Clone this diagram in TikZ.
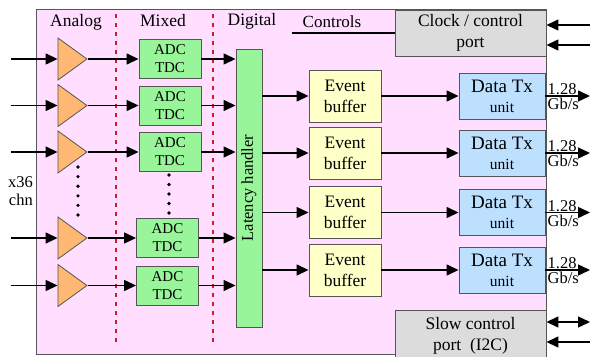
\documentclass[tikz,border=0pt]{standalone}
\usepackage{fontspec}
\setmainfont{Liberation Serif}
\usetikzlibrary{arrows.meta,shapes.geometric}

\definecolor{chippink}{RGB}{255,222,255}
\definecolor{edgegray}{RGB}{85,85,85}
\definecolor{ampor}{RGB}{255,184,115}
\definecolor{adcgreen}{RGB}{153,245,153}
\definecolor{bufyellow}{RGB}{255,255,200}
\definecolor{txblue}{RGB}{189,224,255}
\definecolor{portgray}{RGB}{220,220,220}
\definecolor{sepred}{RGB}{200,30,40}

\begin{document}
\begin{tikzpicture}[x=1pt,y=-1pt,
    >={Triangle[length=12pt,width=11pt]},
    sig/.style={line width=1.4pt,->},
    blk/.style={draw=edgegray,line width=0.9pt,inner sep=0pt,align=center},
    amp/.style={isosceles triangle,isosceles triangle stretches,shape border rotate=0,
        draw=edgegray,fill=ampor,line width=0.8pt,inner sep=0pt,minimum width=42pt,minimum height=29pt},
    adcbox/.style={blk,fill=adcgreen,minimum width=62pt,minimum height=39pt,font=\fontsize{15}{18}\selectfont},
    latbox/.style={blk,fill=adcgreen,minimum width=26pt,minimum height=278pt},
    evbox/.style={blk,fill=bufyellow,minimum width=72pt,minimum height=52pt,font=\fontsize{17.5}{21}\selectfont},
    txbox/.style={blk,fill=txblue,minimum width=86pt,minimum height=46pt,font=\fontsize{19}{20}\selectfont},
    portbox/.style={blk,fill=portgray,minimum width=151pt,font=\fontsize{17.5}{21}\selectfont},
    title/.style={font=\fontsize{17.5}{21}\selectfont,anchor=base},
    rate/.style={font=\fontsize{16.5}{18}\selectfont,inner sep=0pt},
    sep/.style={sepred,line width=1.8pt,dash pattern=on 4pt off 5pt}]
    \useasboundingbox (0,0) rectangle (591,356);

    % Chip outline
    \draw[draw=edgegray,fill=chippink,line width=0.8pt] (36,9) rectangle (546,354);

    % Sections
    \node[title] (analog) at (76,26) {Analog};
    \node[title] (mixed) at (163,26) {Mixed};
    \node[title] (digital) at (252,25) {Digital};
    \draw[sep] (116,14) -- (116,343);
    \draw[sep] (213,14) -- (213,343);

    % Latency handler
    \node[latbox] (lat) at (249,188) {};
    \node[rotate=90,font=\fontsize{16.5}{20}\selectfont] (latlbl) at (lat.center) {Latency handler};

    % Front-end channels
    \foreach \n/\y/\ax in {1/59/170,2/105.5/170,3/152/170,4/238/167.5,5/285.5/167.5} {
        \coordinate (in\n) at (11,\y);
        \node[amp,anchor=apex] (amp\n) at (88,\y) {};
        \node[adcbox] (adc\n) at (\ax,\y) {ADC\\TDC};
        \draw[sig] (in\n) -- (amp\n.lower side);
        \draw[sig] (amp\n.apex) -- (adc\n);
        \draw[sig] (adc\n) -- (adc\n -| lat.west);
    }
    \foreach \k in {0,...,5}
        \fill (78,167+9.6*\k) circle[radius=1.8pt];
    \foreach \k in {0,...,4}
        \fill (169,175+9.5*\k) circle[radius=1.8pt];
    \node[font=\fontsize{16.5}{18}\selectfont,align=right,anchor=east,inner sep=0pt] (nch) at (33,191) {x36\\chn};

    % Readout lanes
    \foreach \n/\y in {1/96,2/153,3/212.5,4/270} {
        \node[evbox] (ev\n) at (345,\y) {Event\\buffer};
        \node[txbox] (tx\n) at (502,\y) {Data Tx\\{\fontsize{15.5}{20}\selectfont unit}};
        \coordinate (out\n) at (590,\y);
        \draw[sig] (ev\n -| lat.east) -- (ev\n);
        \draw[sig] (ev\n) -- (tx\n);
        \draw[sig] (tx\n) -- (out\n);
        \node[rate,anchor=south west] (rt\n) at ([xshift=2pt,yshift=1pt]tx\n.east) {1.28};
        \node[rate,anchor=north west] (gb\n) at ([xshift=2pt,yshift=-2pt]tx\n.east) {Gb/s};
    }

    % Clock / control port
    \node[portbox,minimum height=46pt] (clk) at (470.5,33) {Clock / control\\port};
    \node[font=\fontsize{17}{20}\selectfont] (ctrl) at (332,22) {Controls};
    \coordinate (ctrlend) at (292,33);
    \draw[line width=1.1pt] (ctrlend) -- (clk.west);
    \coordinate (ck1) at (590,25);
    \coordinate (ck2) at (590,45);
    \draw[sig] (ck1) -- (ck1 -| clk.east);
    \draw[sig] (ck2) -- (ck2 -| clk.east);

    % Slow control port
    \node[portbox,minimum height=52pt] (slow) at (470.5,336) {Slow control\\port\ \ (I2C)};
    \coordinate (sl1) at (590,322);
    \coordinate (sl2) at (590,342);
    \draw[line width=1.4pt,<->] (sl1 -| slow.east) -- (sl1);
    \draw[sig] (sl2) -- (sl2 -| slow.east);
\end{tikzpicture}
\end{document}
